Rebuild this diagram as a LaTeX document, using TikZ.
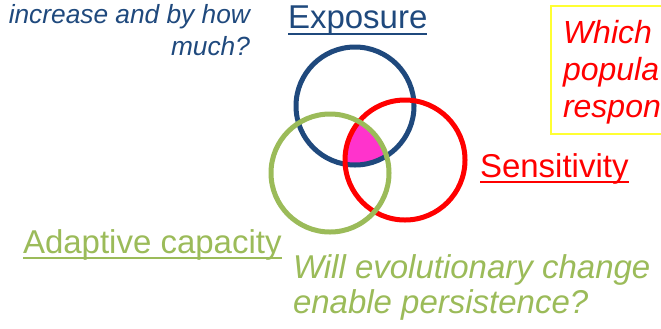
\documentclass[tikz,border=0pt]{standalone}
\usepackage{fontspec}
\setmainfont{Liberation Sans}
\definecolor{cblue}{HTML}{1F497D}
\definecolor{cred}{HTML}{FF0000}
\definecolor{cgreen}{HTML}{9BBB59}
\definecolor{cmag}{HTML}{FF33CC}
\definecolor{cyel}{HTML}{FFFF33}
\begin{document}
\begin{tikzpicture}[x=1bp,y=-1bp,
  txt/.style={inner sep=0pt,outer sep=0pt},
  head/.style={txt,font=\fontsize{33bp}{38bp}\selectfont},
  quest/.style={txt,font=\fontsize{32bp}{37bp}\selectfont\itshape},
  quesg/.style={txt,font=\fontsize{33bp}{37bp}\selectfont\itshape},
  small/.style={txt,font=\fontsize{26.3bp}{32bp}\selectfont\itshape},
  ring/.style={line width=5bp},
  uline/.style={line width=2bp}]
\clip (0,0) rectangle (661,328);
\useasboundingbox (0,0) rectangle (661,328);
% yellow box
\draw[cyel,line width=1.5bp] (551,6) rectangle (700,134);
% intersection fill
\begin{scope}
  \clip (355,106) circle[radius=59];
  \clip (405,160) circle[radius=60];
  \fill[cmag] (330,173) circle[radius=59];
\end{scope}
\draw[ring,cblue] (355,106) circle[radius=59];
\draw[ring,cred] (405,160) circle[radius=60];
\draw[ring,cgreen] (330,173) circle[radius=59];
% labels
\node[head,cblue,anchor=base west] (expo) at (288,28) {Exposure};
\draw[uline,cblue] ([yshift=-6bp]expo.base west) -- ([yshift=-6bp]expo.base east);
\node[head,cred,anchor=base west] (sens) at (480,177) {Sensitivity};
\draw[uline,cred] ([yshift=-5bp]sens.base west) -- ([yshift=-5bp]sens.base east);
\node[head,cgreen,anchor=base west] (adap) at (23,253) {Adaptive capacity};
\draw[uline,cgreen] ([yshift=-5bp]adap.base west) -- ([yshift=-5bp]adap.base east);
% questions
\node[small,cblue,anchor=base east] (q1a) at (250,23) {increase and by how};
\node[small,cblue,anchor=base east] (q1b) at (250,55) {much?};
\node[quest,cred,anchor=base west] (q2a) at (563,43) {Which};
\node[quest,cred,anchor=base west] (q2b) at (563,80) {popula};
\node[quest,cred,anchor=base west] (q2c) at (563,117) {respon};
\node[quesg,cgreen,anchor=base west] (q3a) at (293,278) {Will evolutionary change};
\node[quesg,cgreen,anchor=base west] (q3b) at (293,313) {enable persistence?};
\end{tikzpicture}
\end{document}
